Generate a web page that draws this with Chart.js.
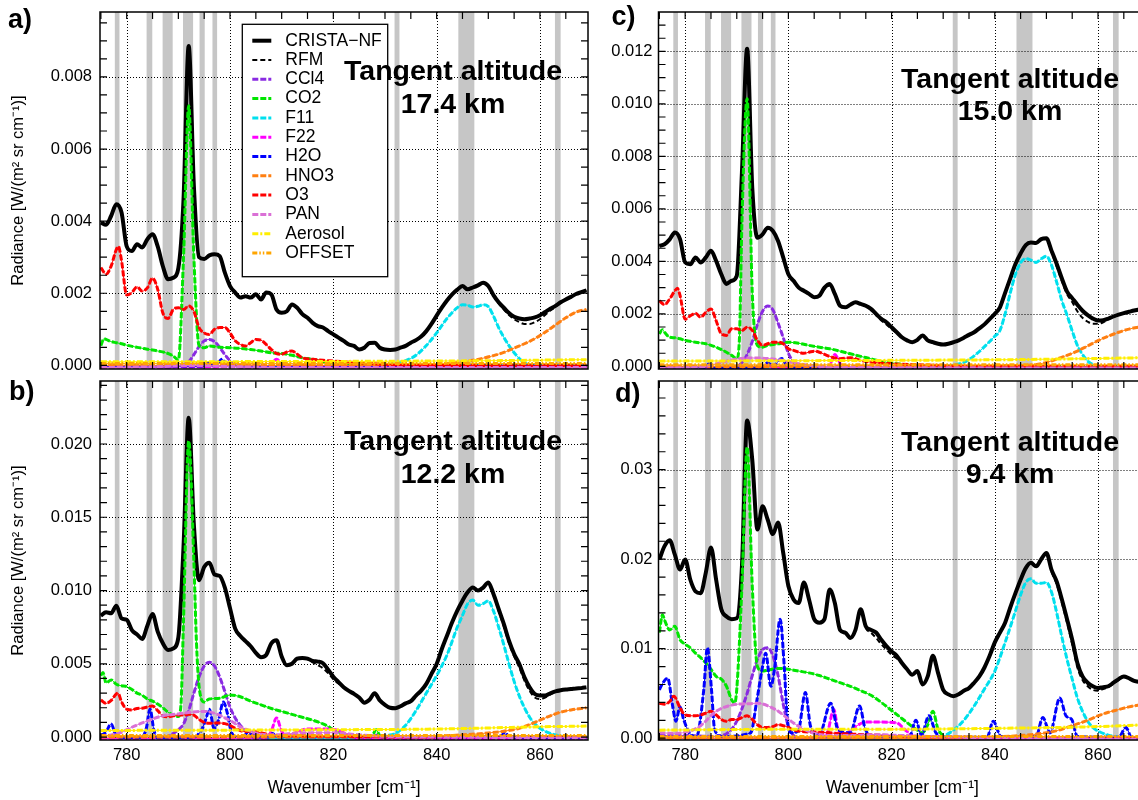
<!DOCTYPE html>
<html>
<head>
<meta charset="utf-8">
<title>CRISTA-NF spectra</title>
<script src="https://cdn.jsdelivr.net/npm/chart.js@4.4.1/dist/chart.umd.min.js"></script>
<style>
  html, body { margin: 0; padding: 0; background: #fff; overflow: hidden; width: 1138px; height: 800px; }
  canvas { position: absolute; }
</style>
</head>
<body>
<canvas id="panelA" width="600" height="380" style="left:0;top:0"></canvas>
<canvas id="panelB" width="600" height="430" style="left:0;top:370px"></canvas>
<canvas id="panelC" width="560" height="380" style="left:600px;top:0"></canvas>
<canvas id="panelD" width="560" height="430" style="left:600px;top:370px"></canvas>
<script>
// all radiances below are in 1e-3 W/(m2 sr cm-1)
const UNIT = 1e-3;

const wnGrid = [
  775, 776, 777, 778, 779, 780, 781, 782, 783, 784,
  785, 786, 787, 788, 789, 790, 791, 792, 793, 794,
  795, 796, 797, 798, 799, 800, 801, 802, 803, 804,
  805, 806, 807, 808, 809, 810, 811, 812, 813, 814,
  815, 816, 817, 818, 819, 820, 821, 822, 823, 824,
  825, 826, 827, 828, 829, 830, 831, 832, 833, 834,
  835, 836, 837, 838, 839, 840, 841, 842, 843, 844,
  845, 846, 847, 848, 849, 850, 851, 852, 853, 854,
  855, 856, 857, 858, 859, 860, 861, 862, 863, 864,
  865, 866, 867, 868, 869
];

// excluded spectral windows (grey bars), wavenumber from/to
const bands = [
  [777.7, 778.6], [783.85, 784.95], [786.95, 788.9], [790.9, 792.85], [794.1, 795.1],
  [796.6, 797.5], [831.85, 832.8], [844.2, 847.3], [862.9, 864.0]
];

const xTicks = [780, 800, 820, 840, 860];
const yTicksA = [0, 0.002, 0.004, 0.006, 0.008];
const yTicksB = [0, 0.005, 0.010, 0.015, 0.020];
const yTicksC = [0, 0.002, 0.004, 0.006, 0.008, 0.010, 0.012];
const yTicksD = [0, 0.01, 0.02, 0.03];

const legendLabels = ['CRISTA\u2212NF', 'RFM', 'CCl4', 'CO2', 'F11', 'F22', 'H2O', 'HNO3', 'O3', 'PAN', 'Aerosol', 'OFFSET'];
const altitudeA = '17.4 km';
const altitudeB = '12.2 km';
const altitudeC = '15.0 km';
const altitudeD = '9.4 km';

// ---------- a) 17.4 km ----------
const cristaA = [
  3.96, 3.90, 4.15, 4.47, 4.24, 3.30, 3.17, 3.36, 3.27, 3.50,
  3.64, 3.30, 2.75, 2.39, 2.43, 2.70, 4.60, 8.86, 4.98, 3.00,
  2.95, 3.05, 3.08, 3.03, 2.57, 2.20, 2.02, 1.88, 1.92, 1.88,
  1.97, 1.83, 2.02, 1.97, 1.55, 1.46, 1.50, 1.69, 1.60, 1.42,
  1.32, 1.18, 1.09, 1.05, 0.95, 0.86, 0.77, 0.68, 0.58, 0.54,
  0.44, 0.49, 0.62, 0.63, 0.49, 0.44, 0.43, 0.44, 0.49, 0.54,
  0.63, 0.70, 0.80, 0.95, 1.15, 1.38, 1.60, 1.80, 1.97, 2.10,
  2.20, 2.11, 2.16, 2.22, 2.29, 2.20, 1.95, 1.75, 1.60, 1.45,
  1.35, 1.30, 1.28, 1.30, 1.33, 1.39, 1.48, 1.57, 1.65, 1.75,
  1.83, 1.90, 1.98, 2.03, 2.08
];
const rfmA = [
  3.96, 3.90, 4.15, 4.47, 4.24, 3.30, 3.17, 3.36, 3.27, 3.50,
  3.64, 3.30, 2.75, 2.39, 2.43, 2.70, 4.55, 8.75, 4.95, 3.00,
  2.95, 3.05, 3.08, 3.03, 2.57, 2.20, 2.00, 1.90, 1.92, 1.88,
  1.97, 1.83, 2.02, 1.97, 1.55, 1.46, 1.50, 1.69, 1.60, 1.42,
  1.32, 1.18, 1.09, 1.05, 0.95, 0.86, 0.77, 0.68, 0.58, 0.54,
  0.44, 0.49, 0.62, 0.63, 0.49, 0.44, 0.43, 0.44, 0.49, 0.54,
  0.63, 0.70, 0.80, 0.95, 1.15, 1.38, 1.60, 1.80, 1.97, 2.10,
  2.20, 2.11, 2.16, 2.22, 2.29, 2.20, 1.93, 1.72, 1.55, 1.40,
  1.28, 1.20, 1.15, 1.15, 1.20, 1.28, 1.40, 1.52, 1.62, 1.75,
  1.83, 1.90, 1.98, 2.03, 2.08
];
const ccl4A = [[775,-0.05],[789,-0.05],[790.5,0],[792,0.1],[793,0.3],[794,0.52],[795,0.68],[796,0.72],[797,0.66],[798,0.5],[799,0.3],[800,0.13],[801,0.03],[802,-0.05],[869,-0.05]];
const co2A = [[775,0.55],[775.6,0.74],[776,0.72],[777,0.66],[778,0.63],[779,0.6],[780,0.56],[782,0.5],[784,0.45],[786,0.4],[788,0.33],[789,0.26],[790,0.15],[791,3.0],[792,7.2],[793,3.0],[794,0.55],[795,0.49],[796,0.54],[798,0.5],[800,0.49],[802,0.47],[804,0.44],[806,0.4],[808,0.35],[810,0.33],[812,0.28],[814,0.21],[816,0.17],[818,0.1],[820,0.06],[822,0.03],[825,0],[869,0]];
const f11A = [[775,-0.03],[828,-0.03],[830,0.02],[832,0.06],[834,0.13],[836,0.28],[838,0.55],[840,0.9],[842,1.3],[844,1.6],[845,1.68],[846,1.67],[847,1.62],[848,1.64],[849,1.68],[850,1.63],[851,1.37],[852,1.05],[853,0.78],[854,0.55],[855,0.35],[856,0.19],[857,0.07],[858,0],[860,-0.03],[869,-0.03]];
const f22A = [[775,-0.04],[807.5,-0.04],[809,0.17],[810.5,-0.04],[869,-0.04]];
const h2oA = [[775,-0.02],[795,-0.02],[796,0.08],[797,-0.01],[798.5,0.17],[799.5,-0.02],[869,-0.02]];
const hno3A = [[775,0],[835,0],[840,0.03],[843,0.06],[845,0.1],[847,0.14],[849,0.2],[851,0.27],[853,0.36],[855,0.48],[857,0.6],[859,0.74],[861,0.92],[863,1.12],[865,1.32],[867,1.48],[869,1.55]];
const o3A = [[775,2.71],[776,2.53],[777,2.76],[778,3.22],[778.4,3.3],[779,2.9],[780,1.95],[781,2.02],[782,2.18],[783,2.06],[784,2.15],[785,2.42],[786,2.11],[787,1.45],[788,1.3],[789,1.55],[790,1.6],[791,1.55],[792,1.65],[793,1.5],[794,1.05],[795,0.9],[796,0.86],[797,1.0],[798,1.05],[799,1.05],[800,0.9],[801,0.68],[802,0.58],[803,0.54],[804,0.63],[805,0.72],[806,0.7],[807,0.58],[808,0.44],[809,0.33],[810,0.31],[811,0.37],[812,0.4],[813,0.31],[814,0.21],[816,0.17],[818,0.14],[820,0.12],[825,0.07],[830,0.03],[840,0],[869,-0.01]];
const panA = [[775,-0.06],[785,-0.04],[793,0],[800,-0.03],[810,-0.06],[869,-0.06]];
const aerosolA = [[775,0.1],[820,0.11],[850,0.13],[869,0.16]];
const offsetA = [[775,0.05],[869,0.05]];

// ---------- b) 12.2 km ----------
const cristaB = [
  8.29, 8.52, 8.45, 8.97, 8.10, 8.00, 7.30, 7.00, 6.70, 7.60,
  8.40, 7.20, 6.40, 5.95, 6.05, 6.80, 13.00, 21.80, 14.50, 10.70,
  11.60, 11.90, 11.10, 11.00, 10.20, 8.80, 7.40, 6.90, 6.55, 6.20,
  5.75, 5.45, 5.60, 6.40, 6.60, 5.50, 4.90, 5.00, 5.35, 5.40,
  5.35, 5.20, 5.15, 5.04, 4.60, 4.12, 3.75, 3.40, 3.15, 2.95,
  2.70, 2.35, 2.55, 2.99, 2.50, 2.20, 2.00, 1.97, 2.10, 2.30,
  2.45, 2.83, 3.17, 3.63, 4.31, 4.99, 6.01, 6.92, 7.83, 8.63,
  9.31, 9.88, 10.20, 10.00, 10.20, 10.55, 9.76, 8.74, 7.72, 6.58,
  5.67, 4.99, 4.08, 3.40, 2.94, 2.83, 2.83, 2.99, 3.12, 3.20,
  3.25, 3.28, 3.32, 3.34, 3.40
];
const rfmB = [
  8.29, 8.52, 8.45, 8.97, 8.10, 8.00, 7.30, 7.00, 6.70, 7.60,
  8.40, 7.20, 6.40, 5.95, 6.05, 6.80, 12.80, 21.40, 14.30, 10.70,
  11.60, 11.90, 11.10, 11.00, 10.20, 8.80, 7.40, 6.90, 6.55, 6.20,
  5.75, 5.45, 5.60, 6.40, 6.60, 5.50, 4.90, 5.00, 5.35, 5.40,
  5.30, 5.10, 4.90, 4.70, 4.35, 3.95, 3.65, 3.40, 3.15, 2.95,
  2.70, 2.35, 2.55, 2.99, 2.50, 2.20, 2.00, 1.97, 2.10, 2.30,
  2.45, 2.83, 3.17, 3.63, 4.31, 4.99, 6.01, 6.92, 7.83, 8.63,
  9.31, 9.88, 10.20, 10.00, 10.20, 10.50, 9.70, 8.60, 7.55, 6.40,
  5.50, 4.75, 3.85, 3.15, 2.70, 2.60, 2.70, 2.90, 3.05, 3.15,
  3.22, 3.26, 3.30, 3.33, 3.38
];
const ccl4B = [[775,-0.1],[787,-0.1],[788,0.05],[789,0.25],[790,0.5],[791,0.9],[792,1.8],[793,3.0],[794,4.1],[795,4.85],[796,5.1],[797,4.85],[798,4.1],[799,3.1],[800,2.05],[801,1.3],[802,0.8],[803,0.45],[804,0.22],[805,0.1],[806,0],[807,-0.1],[869,-0.1]];
const co2B = [[775,4.2],[775.4,4.4],[776,3.7],[777,3.9],[778,3.6],[779,3.5],[780,3.44],[781,3.25],[782,3.0],[783,2.85],[784,2.6],[785,2.45],[786,2.25],[787,2.0],[788,1.7],[789,1.5],[790,1.4],[790.5,2.2],[791,8.0],[792,20.2],[793,12.0],[793.5,6.5],[794,3.5],[795,2.4],[796,2.6],[798,2.65],[800,2.87],[802,2.75],[804,2.45],[806,2.2],[808,1.95],[810,1.75],[812,1.55],[814,1.35],[816,1.15],[818,0.9],[819,0.72],[820,0.5],[821,0.35],[822,0.22],[824,0.1],[826,0.03],[827.5,0.1],[828.3,0.5],[829,0.1],[830,0],[869,0]];
const f11B = [[775,-0.1],[828,-0.1],[830,0.08],[832,0.25],[834,0.8],[836,1.8],[838,3.0],[840,4.2],[842,5.6],[844,7.5],[845,8.3],[846,9.1],[847,9.35],[848,9.0],[849,9.1],[850,9.3],[851,8.6],[852,7.5],[853,6.3],[854,5.0],[855,3.8],[856,2.8],[857,2.0],[858,1.35],[859,0.9],[860,0.6],[862,0.25],[864,0.08],[866,-0.1],[869,-0.1]];
const f22B = [[775,-0.1],[807,-0.1],[808,0.4],[809,1.3],[810,0.4],[811,0.05],[813,0.35],[815,0.55],[818,0.55],[821,0.45],[823,0.1],[825,-0.1],[869,-0.1]];
const h2oB = [[775,0.1],[776,0.35],[777,0.9],[777.8,0.2],[779,-0.05],[783,0],[783.8,0.6],[784.5,1.9],[785.3,0.4],[786,-0.05],[793,0],[794.5,0.5],[795.3,1.2],[796,1.9],[796.9,0.6],[797.8,1.2],[798.7,2.4],[799.5,1.6],[800.2,0.4],[801,0.05],[802.5,0],[803.5,0.35],[804.5,0],[807.5,0],[808.3,0.25],[809,0],[827.5,0],[828.3,0.12],[829,0],[849,0],[850.3,0.15],[851,0],[852.5,0.1],[853.3,0.3],[854,0],[869,-0.05]];
const hno3B = [[775,0],[838,0],[840,0.05],[845,0.15],[850,0.28],[853,0.4],[856,0.6],[858,0.85],[860,1.15],[862,1.45],[864,1.7],[866,1.85],[869,2.0]];
const o3B = [[775,2.53],[776,2.3],[777,2.5],[778,2.95],[778.3,3.0],[779,2.4],[780,1.9],[781,1.85],[782,1.95],[783,1.97],[784,2.05],[785,2.12],[786,1.8],[787,1.45],[788,1.39],[789,1.45],[790,1.5],[791,1.5],[792,1.55],[793,1.5],[794,1.2],[795,1.0],[796,0.94],[797,0.96],[798,0.96],[799,0.92],[800,0.8],[801,0.6],[802,0.45],[803,0.38],[804,0.4],[805,0.37],[806,0.3],[808,0.14],[810,0.1],[815,0.08],[820,0.06],[830,0.03],[840,0],[869,0]];
const panB = [[775,0.05],[777,0.15],[779,0.33],[781,0.67],[784,1.1],[787,1.45],[790,1.58],[792,1.68],[795,1.75],[797,1.62],[800,1.13],[802,0.7],[804,0.4],[806,0.2],[809,0.15],[812,0.25],[815,0.3],[820,0.3],[825,0.15],[830,0.05],[840,0],[869,-0.05]];
const aerosolB = [[775,0.45],[820,0.5],[840,0.55],[860,0.7],[869,0.75]];
const offsetB = [[775,0.1],[869,0.1]];

// ---------- c) 15.0 km ----------
const cristaC = [
  4.59, 4.65, 4.84, 5.10, 4.85, 3.96, 3.89, 4.15, 3.96, 4.15,
  4.40, 4.02, 3.51, 3.14, 3.26, 3.45, 7.40, 12.10, 6.80, 4.90,
  5.03, 5.28, 5.16, 4.78, 4.15, 3.51, 3.26, 3.00, 2.88, 2.76,
  2.63, 2.69, 3.00, 3.14, 2.76, 2.31, 2.25, 2.35, 2.44, 2.38,
  2.31, 2.19, 2.00, 1.81, 1.68, 1.49, 1.30, 1.11, 0.99, 0.92,
  1.01, 1.18, 0.99, 0.92, 0.86, 0.83, 0.86, 0.92, 0.99, 1.09,
  1.20, 1.30, 1.45, 1.60, 1.80, 2.00, 2.25, 2.80, 3.35, 3.90,
  4.30, 4.62, 4.72, 4.70, 4.85, 4.88, 4.40, 3.90, 3.35, 2.85,
  2.60, 2.35, 2.12, 1.95, 1.82, 1.75, 1.76, 1.82, 1.90, 1.97,
  2.03, 2.08, 2.13, 2.17, 2.20
];
const rfmC = [
  4.59, 4.65, 4.84, 5.10, 4.85, 3.96, 3.89, 4.15, 3.96, 4.15,
  4.40, 4.02, 3.51, 3.14, 3.26, 3.45, 7.30, 11.95, 6.75, 4.90,
  5.03, 5.28, 5.16, 4.78, 4.15, 3.51, 3.26, 3.00, 2.88, 2.76,
  2.63, 2.69, 2.95, 3.08, 2.76, 2.31, 2.25, 2.35, 2.44, 2.38,
  2.31, 2.15, 1.95, 1.75, 1.60, 1.42, 1.27, 1.11, 0.99, 0.92,
  1.01, 1.18, 0.99, 0.92, 0.86, 0.83, 0.86, 0.92, 0.99, 1.09,
  1.20, 1.30, 1.45, 1.60, 1.80, 2.00, 2.25, 2.80, 3.35, 3.90,
  4.30, 4.62, 4.72, 4.70, 4.85, 4.85, 4.35, 3.80, 3.25, 2.75,
  2.45, 2.10, 1.85, 1.70, 1.62, 1.62, 1.68, 1.80, 1.88, 1.96,
  2.02, 2.07, 2.12, 2.16, 2.19
];
const ccl4C = [[775,-0.05],[789.5,-0.05],[791,0.15],[792,0.45],[793,0.95],[794,1.6],[795,2.1],[796,2.3],[797,2.15],[798,1.65],[799,1.1],[800,0.5],[801,0.15],[802,-0.02],[803,-0.05],[869,-0.05]];
const co2C = [[775,1.24],[775.6,1.4],[776,1.3],[777,1.11],[778,1.09],[779,1.05],[780,0.99],[782,0.92],[784,0.86],[786,0.73],[788,0.54],[789,0.42],[790,0.3],[790.5,1.0],[791,5.5],[792,10.2],[793,2.8],[794,0.8],[795,0.73],[796,0.8],[798,0.86],[800,0.92],[802,0.88],[804,0.8],[806,0.73],[808,0.67],[810,0.58],[812,0.48],[814,0.38],[816,0.29],[818,0.19],[820,0.13],[822,0.08],[825,0.03],[828,0],[869,0]];
const f11C = [[775,-0.03],[829,-0.03],[830,0],[832,0.05],[834,0.15],[836,0.4],[838,0.75],[840,1.15],[841,1.37],[842,2.0],[843,2.8],[844,3.5],[845,3.95],[846,4.1],[847,4.05],[848,3.96],[849,4.1],[850,4.2],[851,3.85],[852,3.2],[853,2.5],[854,1.95],[855,1.35],[856,0.8],[857,0.45],[858,0.2],[859,0.07],[860,0],[861,-0.03],[869,-0.03]];
const f22C = [[775,-0.05],[795,-0.05],[796,0.08],[797,-0.05],[807.5,-0.05],[808.5,0.25],[809,0.45],[809.7,0.25],[810.5,-0.05],[869,-0.05]];
const h2oC = [[775,-0.06],[784,-0.04],[784.6,0.1],[785.2,-0.04],[795,-0.04],[796,0.15],[797,0],[798.7,0.3],[799.6,0.05],[800.5,-0.04],[869,-0.06]];
const hno3C = [[775,0],[838,0],[842,0.03],[847,0.05],[850,0.15],[852,0.28],[854,0.42],[856,0.58],[858,0.78],[860,0.98],[862,1.15],[864,1.3],[866,1.42],[868,1.5],[869,1.53]];
const o3C = [[775,2.5],[776,2.35],[777,2.57],[778,2.88],[778.5,2.98],[779,2.7],[780,1.8],[781,1.93],[782,2.02],[783,1.87],[784,2.06],[785,2.19],[786,1.74],[787,1.24],[788,1.18],[789,1.43],[790,1.43],[791,1.37],[792,1.49],[793,1.37],[794,0.99],[795,0.8],[796,0.86],[797,0.92],[798,0.92],[799,0.86],[800,0.67],[801,0.61],[802,0.54],[803,0.5],[804,0.54],[805,0.58],[806,0.54],[807,0.46],[808,0.38],[810,0.29],[812,0.33],[814,0.23],[816,0.16],[820,0.1],[825,0.06],[830,0.03],[835,0],[869,0]];
const panC = [[775,-0.06],[783,-0.02],[786,0.1],[788,0.2],[790,0.28],[793,0.32],[796,0.3],[799,0.22],[802,0.1],[805,0.02],[808,-0.04],[869,-0.06]];
const aerosolC = [[775,0.2],[820,0.23],[845,0.26],[869,0.33]];
const offsetC = [[775,0.06],[869,0.06]];

// ---------- d) 9.4 km ----------
const cristaD = [
  19.96, 21.45, 22.10, 20.50, 18.85, 19.96, 17.70, 16.40, 16.20, 18.50,
  21.30, 17.70, 14.40, 13.60, 13.30, 13.40, 19.20, 35.50, 31.10, 23.30,
  25.90, 24.40, 22.80, 24.10, 20.70, 17.00, 15.50, 15.10, 17.40, 15.50,
  13.30, 12.90, 13.30, 16.60, 15.10, 12.10, 11.80, 11.20, 12.10, 14.40,
  12.50, 12.10, 11.80, 11.00, 10.30, 9.70, 9.20, 8.40, 7.70, 7.10,
  7.50, 6.00, 6.90, 9.20, 7.30, 5.40, 4.90, 4.70, 4.90, 5.30,
  5.60, 6.20, 6.90, 7.90, 9.20, 10.70, 11.80, 12.90, 14.60, 16.20,
  17.70, 19.00, 19.60, 19.20, 20.00, 20.70, 18.80, 17.50, 15.50, 13.30,
  11.00, 8.40, 6.90, 6.20, 5.80, 5.60, 5.70, 5.80, 6.20, 6.60,
  6.90, 6.70, 6.40, 6.30, 6.30
];
const rfmD = [
  19.96, 21.45, 22.10, 20.50, 18.85, 19.96, 17.70, 16.40, 16.20, 18.50,
  21.30, 17.70, 14.40, 13.60, 13.30, 13.40, 19.00, 35.00, 30.80, 23.30,
  25.90, 24.40, 22.80, 24.10, 20.70, 17.00, 15.50, 15.10, 17.40, 15.50,
  13.30, 12.90, 13.30, 16.60, 15.10, 12.10, 11.80, 11.20, 12.10, 14.40,
  12.30, 11.80, 11.20, 10.50, 9.90, 9.30, 8.90, 8.40, 7.70, 7.10,
  7.50, 6.00, 6.90, 9.20, 7.30, 5.40, 4.90, 4.70, 4.90, 5.30,
  5.60, 6.20, 6.90, 7.90, 9.20, 10.70, 11.80, 12.90, 14.60, 16.20,
  17.70, 19.00, 19.60, 19.20, 20.00, 20.60, 18.60, 17.20, 15.10, 12.90,
  10.50, 7.90, 6.50, 5.80, 5.40, 5.30, 5.50, 5.70, 6.10, 6.50,
  6.85, 6.65, 6.35, 6.25, 6.25
];
const ccl4D = [[775,0.3],[780,0.3],[785,0.2],[787,0.3],[788,0.5],[789,1.0],[790,1.9],[791,3.3],[792,5.0],[793,7.0],[794,8.8],[795,9.9],[796,10.1],[797,9.2],[798,7.0],[799,3.8],[800,1.3],[801,0.3],[802,0],[869,-0.15]];
const co2D = [[775,11.8],[775.6,13.8],[776,13.2],[777,12.1],[778,12.5],[779,11.0],[780,10.5],[781,10.1],[782,9.5],[783,9.0],[784,8.4],[785,7.7],[786,6.9],[787,6.6],[788,5.8],[789,4.3],[789.6,3.9],[790,5.5],[791,17],[792,32.5],[793,17],[794,8.0],[795,7.5],[796,7.6],[798,7.8],[800,7.7],[802,7.5],[804,7.3],[806,7.0],[808,6.6],[810,6.2],[812,5.8],[814,5.3],[816,4.8],[818,4.0],[820,3.1],[822,2.2],[824,1.3],[825,0.9],[826,0.6],[827,1.5],[828,3.0],[829,1.0],[830,0.3],[832,0],[869,0]];
const f11D = [[775,-0.2],[828,-0.2],[830,0.2],[832,0.9],[834,2.0],[836,3.6],[838,5.5],[840,7.5],[842,10.7],[844,14.2],[845,16.0],[846,17.4],[847,17.8],[848,17.3],[849,17.3],[850,17.4],[851,16.3],[852,14.0],[853,11.3],[854,8.8],[855,6.6],[856,4.5],[857,3.0],[858,1.9],[859,1.2],[860,0.8],[862,0.35],[864,0.1],[866,-0.2],[869,-0.2]];
const f22D = [[775,0],[806,0],[807.5,0.5],[808.8,3.2],[809.6,1.0],[811,0.5],[813,1.3],[815,1.8],[818,1.8],[821,1.7],[822.5,1.0],[824,0.3],[826,0],[869,0]];
const h2oD = [[775,5.4],[775.5,6.0],[776.6,6.7],[777.6,3.5],[778.2,1.9],[779,3.5],[779.7,2.1],[780.8,0.6],[782.2,0.2],[783.6,5.4],[784.3,10.1],[785.1,5.4],[785.7,1.0],[787.1,0.2],[792.7,0.6],[793.8,3.9],[794.9,7.7],[795.6,9.5],[796.6,5.8],[797.3,7.7],[798.4,13.3],[799.2,8.0],[799.8,2.1],[800.6,0.6],[801.9,0.8],[803.3,5.1],[804.3,1.3],[806,0.4],[808.2,3.9],[809.6,1.0],[812,0.6],[813.8,3.6],[814.9,1.0],[816.7,0.2],[823.5,0.2],[824.7,2.0],[825.8,0.3],[827.2,2.5],[828.6,0.6],[830,0.1],[838.5,0.1],[839.7,1.9],[841.2,0.2],[848,0.2],[849.3,2.3],[850.7,0.6],[852.6,4.5],[853.8,2.5],[854.9,2.1],[856,0.2],[864,0.1],[865.4,1.2],[866.5,0.1],[869,0]];
const hno3D = [[775,0],[833,0],[835,0.05],[840,0.15],[845,0.3],[850,0.6],[853,1.0],[856,1.6],[858,2.0],[860,2.5],[862,2.9],[864,3.2],[866,3.5],[869,3.8]];
const o3D = [[775,3.9],[776,3.8],[777,4.1],[777.8,4.7],[779,3.4],[780,2.6],[782,2.5],[783,2.6],[784,2.8],[785,3.0],[786,2.6],[787,2.1],[788,1.9],[789,2.1],[790,2.1],[791,2.3],[792,2.5],[793,2.1],[794,1.5],[795,1.2],[796,1.2],[797,1.3],[798,1.5],[799,1.4],[800,1.2],[801,0.9],[802,0.8],[804,0.7],[806,0.67],[808,0.6],[810,0.5],[815,0.4],[820,0.3],[825,0.2],[830,0.15],[840,0.04],[850,0],[869,0]];
const panD = [[775,0.6],[778,0.55],[781,0.8],[783,1.4],[786,3.0],[789,3.7],[792,3.85],[794,3.9],[797.5,3.2],[799,2.6],[801,1.7],[803,1.0],[805,0.55],[808,0.3],[812,0.3],[817,0.4],[822,0.3],[830,0.15],[840,0.05],[869,-0.1]];
const aerosolD = [[775,0.9],[800,1.0],[820,1.0],[840,1.1],[860,1.3],[869,1.5]];
const offsetD = [[775,0.2],[869,0.2]];

// line styles, in legend order after CRISTA-NF and RFM
const speciesStyle = [
  { color: '#8a2be2', dash: [6, 2] },          // CCl4
  { color: '#00e600', dash: [6, 2] },          // CO2
  { color: '#00e0ee', dash: [6, 2] },          // F11
  { color: '#ff00ff', dash: [6, 2] },          // F22
  { color: '#0000ff', dash: [6, 2] },          // H2O
  { color: '#ff7f11', dash: [6, 2] },          // HNO3
  { color: '#ff0000', dash: [6, 2] },          // O3
  { color: '#da70d6', dash: [6, 2] },          // PAN
  { color: '#ffee00', dash: [6, 2, 2, 2] },    // Aerosol
  { color: '#ffa500', dash: [5, 2, 1.5, 2, 1.5, 2] } // OFFSET
];

const FONT = "'Liberation Sans', Arial, Helvetica, sans-serif";

const toGrid = vals => vals.map((v, i) => ({ x: wnGrid[i], y: v * UNIT }));
const toPairs = arr => arr.map(([x, v]) => ({ x, y: v * UNIT }));

function decor(p) {
  return {
    id: 'decor',
    beforeDraw(chart) {
      const { ctx, chartArea: a, scales: { x, y } } = chart;
      ctx.save();
      ctx.fillStyle = '#c6c6c6';
      bands.forEach(([lo, hi]) => {
        const x0 = x.getPixelForValue(lo), x1 = x.getPixelForValue(hi);
        ctx.fillRect(x0, a.top, x1 - x0, a.bottom - a.top);
      });
      ctx.strokeStyle = '#000';
      ctx.lineWidth = 1;
      ctx.setLineDash([1, 2]);
      ctx.beginPath();
      x.ticks.forEach(t => {
        const px = Math.round(x.getPixelForValue(t.value)) + 0.5;
        ctx.moveTo(px, a.top); ctx.lineTo(px, a.bottom);
      });
      y.ticks.forEach(t => {
        const py = Math.round(y.getPixelForValue(t.value)) + 0.5;
        ctx.moveTo(a.left, py); ctx.lineTo(a.right, py);
      });
      ctx.stroke();
      ctx.restore();
    },
    afterDatasetDraw(chart, args) {
      const ds = chart.data.datasets[args.index];
      if (!ds.thinCore) return;
      const { ctx, chartArea: a } = chart;
      ctx.save();
      ctx.beginPath();
      ctx.rect(a.left, a.top, a.right - a.left, a.bottom - a.top);
      ctx.clip();
      ctx.beginPath();
      try { args.meta.dataset.path(ctx); } catch (e) { ctx.restore(); return; }
      ctx.setLineDash([]);
      ctx.lineWidth = 1;
      ctx.strokeStyle = ds.borderColor;
      ctx.stroke();
      ctx.restore();
    },
    afterDraw(chart) {
      const { ctx, chartArea: a, scales: { x, y } } = chart;
      ctx.save();
      // frame
      ctx.strokeStyle = '#000';
      ctx.lineWidth = 1.5;
      ctx.setLineDash([]);
      ctx.strokeRect(a.left, a.top, a.right - a.left, a.bottom - a.top);
      // inward tick marks
      ctx.lineWidth = 1.2;
      ctx.beginPath();
      for (let v = 775; v <= x.max; v += 5) {
        const px = x.getPixelForValue(v);
        ctx.moveTo(px, a.bottom); ctx.lineTo(px, a.bottom - 7);
        ctx.moveTo(px, a.top); ctx.lineTo(px, a.top + 7);
      }
      for (let v = Math.ceil(y.min / p.yMinor) * p.yMinor; v <= y.max; v += p.yMinor) {
        const py = y.getPixelForValue(v);
        ctx.moveTo(a.left, py); ctx.lineTo(a.left + 7, py);
        ctx.moveTo(a.right, py); ctx.lineTo(a.right - 7, py);
      }
      ctx.stroke();

      // legend
      if (p.legend) {
        const L = p.legend;
        ctx.fillStyle = '#fff';
        ctx.fillRect(L.x, L.y, L.w, L.h);
        ctx.strokeStyle = '#000';
        ctx.lineWidth = 1.3;
        ctx.strokeRect(L.x, L.y, L.w, L.h);
        ctx.font = '17.5px ' + FONT;
        ctx.textBaseline = 'middle';
        ctx.textAlign = 'left';
        chart.data.datasets.forEach((ds, i) => {
          const ly = L.y + L.first + i * L.step;
          ctx.strokeStyle = ds.borderColor;
          ctx.lineWidth = ds.borderWidth;
          ctx.setLineDash(ds.borderDash || []);
          ctx.beginPath();
          ctx.moveTo(L.x + 10, ly); ctx.lineTo(L.x + 29, ly);
          ctx.stroke();
          ctx.setLineDash([]);
          ctx.fillStyle = '#000';
          ctx.fillText(ds.label, L.x + 43, ly);
        });
      }
      // tangent altitude note
      ctx.fillStyle = '#000';
      ctx.font = 'bold 28.5px ' + FONT;
      ctx.textAlign = 'center';
      ctx.textBaseline = 'middle';
      ctx.fillText('Tangent altitude', p.note.x, p.note.y1);
      ctx.fillText(p.altitude, p.note.x, p.note.y2);
      // panel letter
      ctx.font = 'bold 27px ' + FONT;
      ctx.textAlign = 'left';
      ctx.fillText(p.letter, p.letterAt[0], p.letterAt[1]);
      // axis titles
      ctx.font = '16.5px ' + FONT;
      if (p.yTitle) {
        ctx.save();
        ctx.translate(18.5, (a.top + a.bottom) / 2);
        ctx.rotate(-Math.PI / 2);
        ctx.textAlign = 'center';
        ctx.fillText('Radiance [W/(m\u00b2 sr cm\u207b\u00b9)]', 0, 0);
        ctx.restore();
      }
      if (p.xTitle) {
        ctx.font = '17.5px ' + FONT;
        ctx.textAlign = 'center';
        ctx.fillText('Wavenumber [cm\u207b\u00b9]', (a.left + a.right) / 2, p.xTitleY);
      }
      ctx.restore();
    }
  };
}

function panel(p) {
  const datasets = [
    { label: legendLabels[0], data: toGrid(p.crista), borderColor: '#000', borderWidth: 4, order: 12 },
    { label: legendLabels[1], data: toGrid(p.rfm), borderColor: '#000', borderWidth: 2, borderDash: [5, 3], order: 11 }
  ];
  p.species.forEach((s, i) => {
    datasets.push({
      label: legendLabels[i + 2],
      data: toPairs(s),
      borderColor: speciesStyle[i].color,
      borderWidth: 3,
      borderDash: speciesStyle[i].dash,
      thinCore: true,
      order: 10 - i
    });
  });
  const tickFont = { family: FONT, size: 16.5 };
  new Chart(document.getElementById(p.id), {
    type: 'line',
    data: { datasets },
    options: {
      responsive: false,
      animation: false,
      devicePixelRatio: 1,
      layout: { padding: p.pad },
      plugins: { legend: { display: false }, tooltip: { enabled: false } },
      elements: {
        point: { radius: 0 },
        line: { cubicInterpolationMode: 'monotone', fill: false }
      },
      datasets: { line: { clip: 0 } },
      scales: {
        x: {
          type: 'linear',
          min: 774.83,
          max: 869.3,
          grid: { display: false, drawTicks: false },
          border: { display: false },
          ticks: { display: p.xTitle, font: tickFont, color: '#000', padding: 6, maxRotation: 0, autoSkip: false },
          afterBuildTicks: s => { s.ticks = xTicks.map(v => ({ value: v })); },
          afterFit: s => {
            s.height = p.xTitle ? 60 : 0;
            s.paddingLeft = 0; s.paddingRight = 0;
          }
        },
        y: {
          type: 'linear',
          min: p.yMin,
          max: p.yMax,
          grid: { display: false, drawTicks: false },
          border: { display: false },
          ticks: { font: tickFont, color: '#000', padding: p.tickPad, callback: v => v.toFixed(p.decimals) },
          afterBuildTicks: s => { s.ticks = p.yTicks.map(v => ({ value: v })); },
          afterFit: s => {
            s.width = p.axisW;
            s.paddingTop = 0; s.paddingBottom = 0;
          }
        }
      }
    },
    plugins: [decor(p)]
  });
}

panel({
  id: 'panelA', crista: cristaA, rfm: rfmA,
  species: [ccl4A, co2A, f11A, f22A, h2oA, hno3A, o3A, panA, aerosolA, offsetA],
  yMin: -0.0001, yMax: 0.0098, yTicks: yTicksA, yMinor: 0.0005, decimals: 3,
  pad: { top: 12, right: 12, bottom: 11, left: 0 }, axisW: 100, tickPad: 8,
  altitude: altitudeA, note: { x: 453, y1: 72, y2: 105 },
  letter: 'a)', letterAt: [8, 21], yTitle: true, xTitle: false,
  legend: { x: 242.3, y: 24.3, w: 145.4, h: 252.4, first: 16.4, step: 19.3 }
});
panel({
  id: 'panelB', crista: cristaB, rfm: rfmB,
  species: [ccl4B, co2B, f11B, f22B, h2oB, hno3B, o3B, panB, aerosolB, offsetB],
  yMin: -0.0002, yMax: 0.0243, yTicks: yTicksB, yMinor: 0.001, decimals: 3,
  pad: { top: 11, right: 12, bottom: 0, left: 0 }, axisW: 100, tickPad: 8,
  altitude: altitudeB, note: { x: 453, y1: 72, y2: 105 },
  letter: 'b)', letterAt: [9, 23], yTitle: true, xTitle: true, xTitleY: 418
});
panel({
  id: 'panelC', crista: cristaC, rfm: rfmC,
  species: [ccl4C, co2C, f11C, f22C, h2oC, hno3C, o3C, panC, aerosolC, offsetC],
  yMin: -0.0001, yMax: 0.0135, yTicks: yTicksC, yMinor: 0.0005, decimals: 3,
  pad: { top: 12, right: 14, bottom: 11, left: 0 }, axisW: 58.5, tickPad: 6,
  altitude: altitudeC, note: { x: 410, y1: 80, y2: 112 },
  letter: 'c)', letterAt: [11.5, 18], yTitle: false, xTitle: false
});
panel({
  id: 'panelD', crista: cristaD, rfm: rfmD,
  species: [ccl4D, co2D, f11D, f22D, h2oD, hno3D, o3D, panD, aerosolD, offsetD],
  yMin: -0.0002, yMax: 0.0399, yTicks: yTicksD, yMinor: 0.002, decimals: 2,
  pad: { top: 11, right: 14, bottom: 0, left: 0 }, axisW: 58.5, tickPad: 6,
  altitude: altitudeD, note: { x: 410, y1: 73, y2: 105 },
  letter: 'd)', letterAt: [15, 25], yTitle: false, xTitle: true, xTitleY: 418
});
</script>
</body>
</html>
